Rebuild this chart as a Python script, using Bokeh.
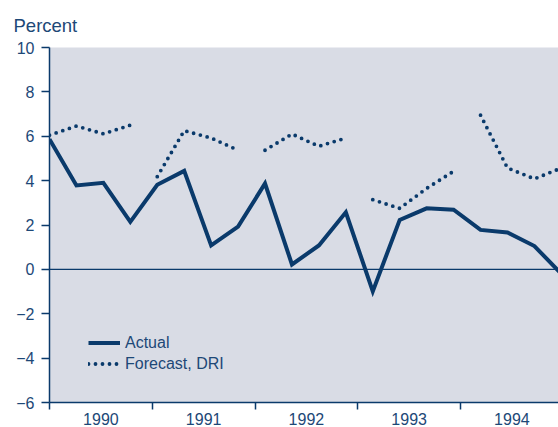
from bokeh.plotting import figure
from bokeh.models import (FixedTicker, CustomJSTickFormatter, Span, Legend,
                          LegendItem, Range1d)
from bokeh.embed import file_html
from bokeh.resources import INLINE

# ---- data ----
years = ["1990", "1991", "1992", "1993", "1994"]
y_ticks = [-6, -4, -2, 0, 2, 4, 6, 8, 10]
# quarterly actual values, 1990Q1 .. 1994Q4
actual = [5.87, 3.78, 3.90, 2.14, 3.81, 4.44, 1.08, 1.93,
          3.87, 0.22, 1.08, 2.57, -0.99, 2.23, 2.75, 2.69,
          1.78, 1.66, 1.05, -0.20]
# DRI forecasts, one four-quarter run per year
forecast_1990 = [6.05, 6.46, 6.11, 6.50]
forecast_1991 = [4.18, 6.25, 5.92, 5.37]
forecast_1992 = [5.37, 6.10, 5.55, 5.92]
forecast_1993 = [3.14, 2.75, 3.65, 4.42]
forecast_1994 = [6.95, 4.57, 4.08, 4.57]
forecasts = [forecast_1990, forecast_1991, forecast_1992, forecast_1993, forecast_1994]

# ---- style / layout constants ----
LINE = "#0a3a6b"
TEXT = "#1d4877"
BG = "#d9dce5"
FONT = "Liberation Sans"
Q_STEP = 26.94 / 102.75   # quarter spacing relative to the year tick spacing
X0 = 1990.0

x_actual = [X0 + i * Q_STEP for i in range(len(actual))]
fx, fy = [], []
for j, seg in enumerate(forecasts):
    for i, v in enumerate(seg):
        fx.append(X0 + (4 * j + i) * Q_STEP)
        fy.append(v)
    fx.append(float("nan"))
    fy.append(float("nan"))

p = figure(width=558, height=427, output_backend="svg", toolbar_location=None,
           x_range=Range1d(1990, 1990 + 509 / 102.75), y_range=Range1d(-6, 10),
           min_border_left=49, min_border_right=0, min_border_top=46,
           min_border_bottom=24)
p.background_fill_color = BG
p.border_fill_color = "white"
p.outline_line_color = None
p.xgrid.visible = False
p.ygrid.visible = False

# title
p.title.text = "Percent"
p.title.align = "left"
p.title.offset = -36
p.title.standoff = 24
p.title.text_line_height = 1.0
p.title.text_font = FONT
p.title.text_font_size = "18.5px"
p.title.text_font_style = "normal"
p.title.text_color = TEXT

# zero line
p.add_layout(Span(location=0, dimension="width", line_color=LINE, line_width=1.3))

# lines
r_act = p.line(x_actual, actual, line_color=LINE, line_width=4, line_join="miter")
r_fc = p.line(fx, fy, line_color=LINE, line_width=3.8, line_dash="0 7",
              line_cap="round")

# x axis
xa = p.xaxis[0]
xa.ticker = FixedTicker(ticks=[int(y) + 0.5 for y in years],
                        minor_ticks=[int(y) for y in years] + [int(years[-1]) + 1])
xa.formatter = CustomJSTickFormatter(code="return Math.floor(tick).toString();")
xa.major_tick_out = 0
xa.major_tick_in = 0
xa.minor_tick_out = 7
xa.minor_tick_in = 0
xa.minor_tick_line_color = LINE
xa.minor_tick_line_width = 1.5
xa.axis_line_color = LINE
xa.axis_line_width = 1.5
xa.major_label_standoff = 3
xa.major_label_text_font = FONT
xa.major_label_text_font_size = "16px"
xa.major_label_text_color = TEXT

# y axis
ya = p.yaxis[0]
ya.ticker = FixedTicker(ticks=y_ticks, minor_ticks=[])
ya.formatter = CustomJSTickFormatter(
    code="return tick < 0 ? '\u2212' + Math.abs(tick) : tick.toString();")
ya.major_tick_out = 8
ya.major_tick_in = 0
ya.minor_tick_out = 0
ya.minor_tick_in = 0
ya.major_tick_line_color = LINE
ya.major_tick_line_width = 1.5
ya.axis_line_color = LINE
ya.axis_line_width = 1.5
ya.major_label_standoff = 7
ya.major_label_text_font = FONT
ya.major_label_text_font_size = "16px"
ya.major_label_text_color = TEXT

legend = Legend(items=[LegendItem(label="Actual", renderers=[r_act]),
                       LegendItem(label="Forecast, DRI", renderers=[r_fc])],
                location=(39, 28), padding=0, margin=0, spacing=0,
                label_height=21, glyph_height=21, glyph_width=32,
                label_standoff=5, border_line_alpha=0, background_fill_alpha=0,
                label_text_font=FONT, label_text_font_size="16px",
                label_text_color=TEXT)
p.add_layout(legend)

open("out.html", "w").write(file_html(p, INLINE))
